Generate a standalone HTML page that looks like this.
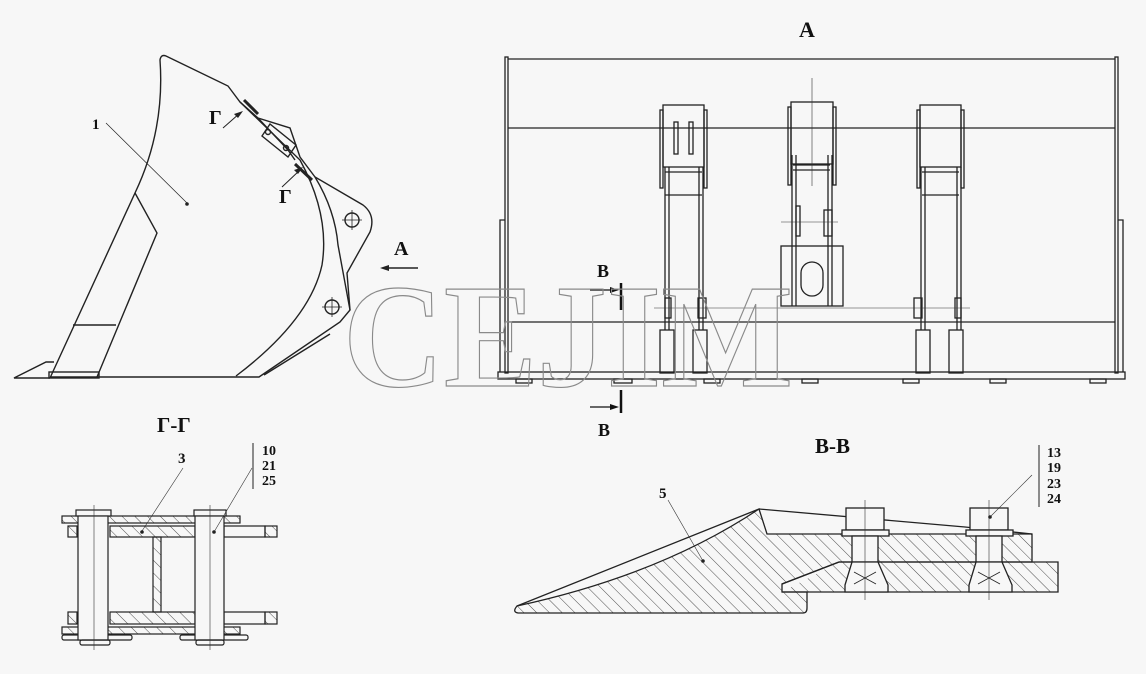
<!DOCTYPE html>
<html><head><meta charset="utf-8"><style>
html,body{margin:0;padding:0;background:#f7f7f7;}
svg{display:block;}
text{font-family:"Liberation Serif",serif;font-weight:bold;fill:#111;}
</style></head><body>
<svg width="1146" height="674" viewBox="0 0 1146 674" xmlns="http://www.w3.org/2000/svg">
<defs>
<pattern id="h" patternUnits="userSpaceOnUse" width="9" height="9" patternTransform="rotate(-45)">
<line x1="0" y1="0" x2="0" y2="9" stroke="#222" stroke-width="0.8"/></pattern>
</defs>
<rect width="1146" height="674" fill="#f7f7f7"/>
<g fill="none" stroke="#222" stroke-width="1.4">
<!-- side view -->
<path d="M50,378 L135,193 Q165,130 160,60 Q161,54 166,56 L228,86 L240,102 L258,118 L290,128 L300,157 L315,177 L363,205 Q376,215 370,232 L347,273 L350,310 L340,322 L259,377 L50,377"/>
<path d="M240,102 L300,160 Q330,215 322,265 Q310,320 236,376"/>
<path d="M315,177 Q335,210 338,245 L350,310"/>
<path d="M135,193 L157,233 L97,377"/>
<line x1="73" y1="325" x2="116" y2="325"/>
<path d="M50,378 L14,378 L46,362 L54,362"/>
<rect x="49" y="372" width="50" height="6"/>
<path d="M264,375 L330,334"/>
<path d="M258,118 L288,150 L295,160"/>
<path d="M262,136 L270,124 L296,145 L288,157 Z"/>
<circle cx="268" cy="132" r="2.5"/><circle cx="286" cy="148" r="2.5"/>
<line x1="244" y1="100" x2="258" y2="114" stroke-width="3"/>
<line x1="295" y1="164" x2="312" y2="180" stroke-width="3"/>
<circle cx="352" cy="220" r="7"/><line x1="342" y1="220" x2="362" y2="220" stroke-width="0.8"/><line x1="352" y1="210" x2="352" y2="230" stroke-width="0.8"/>
<circle cx="332" cy="307" r="7"/><line x1="322" y1="307" x2="342" y2="307" stroke-width="0.8"/><line x1="332" y1="297" x2="332" y2="317" stroke-width="0.8"/>
<line x1="106" y1="123" x2="187" y2="203" stroke-width="0.7"/>
<path d="M223,128 L240,113" stroke-width="1"/><path d="M282,187 L300,170" stroke-width="1"/>
<line x1="418" y1="268" x2="386" y2="268"/>
</g>
<polygon points="380,268 389,265 389,271" fill="#222"/>
<polygon points="243,111 234,114 238,118" fill="#222"/>
<polygon points="303,167 294,170 298,174" fill="#222"/>
<circle cx="187" cy="204" r="1.8" fill="#222"/>
<text x="92" y="129" font-size="15">1</text>
<text x="209" y="124" font-size="20">Г</text>
<text x="279" y="203" font-size="20">Г</text>
<text x="394" y="255" font-size="20">A</text>

<!-- view A -->
<text x="799" y="37" font-size="22">A</text>
<g fill="none" stroke="#222" stroke-width="1.3">
<rect x="505" y="57" width="3" height="316"/>
<rect x="1115" y="57" width="3" height="316"/>
<line x1="508" y1="59" x2="1115" y2="59"/>
<line x1="508" y1="128" x2="1115" y2="128"/>
<line x1="508" y1="322" x2="1115" y2="322"/>
<path d="M505,220 L500,220 L500,372"/><path d="M1118,220 L1123,220 L1123,372"/>
<rect x="498" y="372" width="627" height="7"/>
<g>
<rect x="516" y="379" width="16" height="4"/><rect x="614" y="379" width="18" height="4"/><rect x="704" y="379" width="16" height="4"/><rect x="802" y="379" width="16" height="4"/><rect x="903" y="379" width="16" height="4"/><rect x="990" y="379" width="16" height="4"/><rect x="1090" y="379" width="16" height="4"/>
</g>
<rect x="663" y="105" width="41" height="62"/><rect x="660" y="110" width="3" height="78"/><rect x="704" y="110" width="3" height="78"/>
<rect x="674" y="122" width="4" height="32"/><rect x="689" y="122" width="4" height="32"/>
<line x1="665" y1="172" x2="702" y2="172"/><line x1="665" y1="195" x2="702" y2="195"/>
<line x1="665" y1="167" x2="665" y2="330"/><line x1="669" y1="167" x2="669" y2="330"/>
<line x1="699" y1="167" x2="699" y2="330"/><line x1="703" y1="167" x2="703" y2="330"/>
<rect x="665" y="298" width="6" height="20"/><rect x="698" y="298" width="8" height="20"/>
<rect x="660" y="330" width="14" height="43"/><rect x="693" y="330" width="14" height="43"/>
<rect x="791" y="102" width="42" height="62"/><rect x="788" y="107" width="3" height="78"/><rect x="833" y="107" width="3" height="78"/>
<line x1="793" y1="165" x2="830" y2="165"/><line x1="793" y1="170" x2="830" y2="170"/>
<line x1="792" y1="155" x2="792" y2="306"/><line x1="796" y1="155" x2="796" y2="306"/>
<line x1="828" y1="155" x2="828" y2="306"/><line x1="832" y1="155" x2="832" y2="306"/>
<rect x="796" y="206" width="4" height="30"/><rect x="824" y="210" width="8" height="26"/>
<rect x="781" y="246" width="62" height="60"/>
<rect x="801" y="262" width="22" height="34" rx="11"/>
<rect x="920" y="105" width="41" height="62"/><rect x="917" y="110" width="3" height="78"/><rect x="961" y="110" width="3" height="78"/>
<line x1="922" y1="172" x2="959" y2="172"/><line x1="922" y1="195" x2="959" y2="195"/>
<line x1="921" y1="167" x2="921" y2="330"/><line x1="925" y1="167" x2="925" y2="330"/>
<line x1="957" y1="167" x2="957" y2="330"/><line x1="961" y1="167" x2="961" y2="330"/>
<rect x="914" y="298" width="8" height="20"/><rect x="955" y="298" width="6" height="20"/>
<rect x="916" y="330" width="14" height="43"/><rect x="949" y="330" width="14" height="43"/>
</g>
<g stroke="#333" stroke-width="0.6">
<line x1="812" y1="78" x2="812" y2="186"/><line x1="781" y1="222" x2="838" y2="222"/>
<line x1="654" y1="308" x2="970" y2="308"/>
</g>
<line x1="621" y1="283" x2="621" y2="310" stroke="#111" stroke-width="2.5"/>
<line x1="590" y1="290" x2="614" y2="290" stroke="#111" stroke-width="1.2"/><polygon points="619,290 610,287 610,293" fill="#111"/>
<text x="597" y="277" font-size="18">B</text>
<line x1="621" y1="390" x2="621" y2="413" stroke="#111" stroke-width="2.5"/>
<line x1="590" y1="407" x2="614" y2="407" stroke="#111" stroke-width="1.2"/><polygon points="619,407 610,404 610,410" fill="#111"/>
<text x="598" y="436" font-size="18">B</text>
<text x="343" y="386" font-size="148" font-weight="normal" fill="none" stroke="#8a8a8a" stroke-width="1.2" style="fill:none" textLength="450" lengthAdjust="spacingAndGlyphs">CEJIM</text>

<!-- Г-Г -->
<text x="157" y="432" font-size="21">Г-Г</text>
<text x="178" y="463" font-size="15">3</text>
<line x1="253" y1="443" x2="253" y2="489" stroke="#222"/>
<text x="262" y="455" font-size="14">10</text><text x="262" y="470" font-size="14">21</text><text x="262" y="485" font-size="14">25</text>
<g stroke="#222" stroke-width="1.2">
<rect x="62" y="516" width="178" height="7" fill="url(#h)"/>
<rect x="110" y="526" width="85" height="11" fill="url(#h)"/>
<rect x="68" y="526" width="9" height="11" fill="url(#h)"/>
<rect x="224" y="526" width="41" height="11" fill="none"/><rect x="265" y="526" width="12" height="11" fill="url(#h)"/>
<rect x="153" y="537" width="8" height="75" fill="url(#h)"/>
<rect x="110" y="612" width="85" height="12" fill="url(#h)"/>
<rect x="68" y="612" width="9" height="12" fill="url(#h)"/>
<rect x="224" y="612" width="41" height="12" fill="none"/><rect x="265" y="612" width="12" height="12" fill="url(#h)"/>
<rect x="62" y="627" width="178" height="7" fill="url(#h)"/>
<rect x="62" y="635" width="70" height="5" rx="2" fill="none"/><rect x="180" y="635" width="68" height="5" rx="2" fill="none"/>
<rect x="76" y="510" width="35" height="6" fill="#f7f7f7"/><rect x="194" y="510" width="32" height="6" fill="#f7f7f7"/>
<rect x="78" y="516" width="30" height="124" fill="#f7f7f7"/><rect x="195" y="516" width="29" height="124" fill="#f7f7f7"/>
<rect x="80" y="640" width="30" height="5" rx="2" fill="none"/><rect x="196" y="640" width="28" height="5" rx="2" fill="none"/>
</g>
<g stroke="#333" stroke-width="0.6"><line x1="94" y1="505" x2="94" y2="650"/><line x1="210" y1="505" x2="210" y2="650"/>
<line x1="183" y1="468" x2="142" y2="531"/><line x1="252" y1="468" x2="214" y2="532"/></g>
<circle cx="142" cy="532" r="1.8" fill="#222"/><circle cx="214" cy="532" r="1.8" fill="#222"/>

<!-- B-B -->
<text x="815" y="453" font-size="21">B-B</text>
<line x1="1039" y1="445" x2="1039" y2="507" stroke="#222"/>
<text x="1047" y="457" font-size="14">13</text><text x="1047" y="472" font-size="14">19</text><text x="1047" y="488" font-size="14">23</text><text x="1047" y="503" font-size="14">24</text>
<g stroke="#222" stroke-width="1.3">
<path d="M759,509 L767,534 L1032,534 L1032,562 L839,562 L782,584 L782,592 L807,592 L807,608 Q807,613 803,613 L518,613 Q512,612 517,606 Q660,575 759,509 Z" fill="url(#h)"/>
<path d="M759,509 L517,606" fill="none"/>
<path d="M759,509 L965,527 L1032,534" fill="none"/>
<path d="M839,562 L1058,562 L1058,592 L782,592" fill="url(#h)"/>
<path d="M782,584 L839,562" fill="none"/>
<g fill="#f7f7f7">
<rect x="846" y="508" width="38" height="22"/><rect x="842" y="530" width="47" height="6"/><rect x="852" y="536" width="26" height="26"/><path d="M852,562 L878,562 L888,585 L888,592 L845,592 L845,585 Z"/>
<rect x="970" y="508" width="38" height="22"/><rect x="966" y="530" width="47" height="6"/><rect x="976" y="536" width="26" height="26"/><path d="M976,562 L1002,562 L1012,585 L1012,592 L969,592 L969,585 Z"/>
</g>
<path d="M854,572 L876,584 M876,572 L854,584 M978,572 L1000,584 M1000,572 L978,584" fill="none" stroke-width="0.8"/>
</g>
<g stroke="#333" stroke-width="0.6"><line x1="865" y1="500" x2="865" y2="600"/><line x1="989" y1="500" x2="989" y2="600"/>
<line x1="668" y1="500" x2="703" y2="561"/><line x1="1032" y1="475" x2="990" y2="517"/></g>
<circle cx="703" cy="561" r="1.8" fill="#222"/><circle cx="990" cy="517" r="1.8" fill="#222"/>
<text x="659" y="498" font-size="15">5</text>
</svg>
</body></html>
